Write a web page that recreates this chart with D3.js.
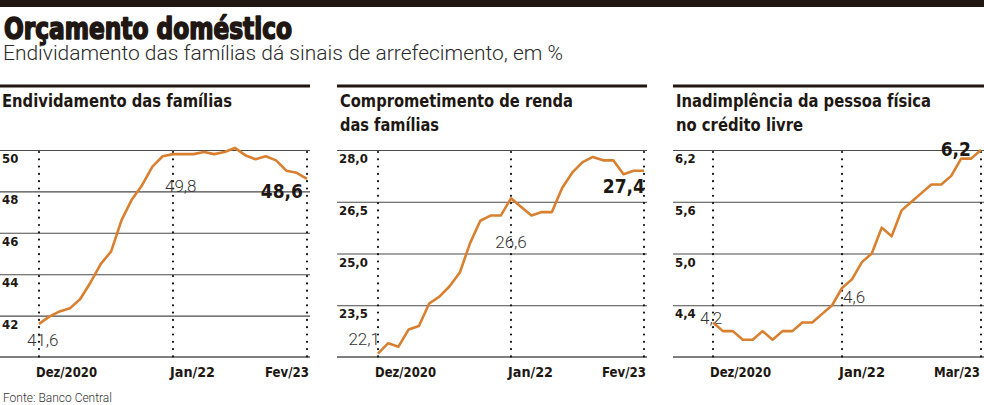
<!DOCTYPE html>
<html><head><meta charset="utf-8">
<script src="https://cdn.jsdelivr.net/npm/d3@7"></script>
<style>
html,body{margin:0;padding:0;background:#fff;}
svg{display:block;}
</style></head>
<body>
<svg id="chart" width="984" height="405"></svg>
<script>
// ---------- DATA ----------
const title = "Orçamento doméstico";
const subtitle = "Endividamento das famílias dá sinais de arrefecimento, em %";
const source = "Fonte: Banco Central";

// Panel 1: Endividamento das famílias (Dez/2020 .. Fev/23, monthly)
const endividamento = [41.6, 41.95, 42.2, 42.35, 42.8, 43.6, 44.5, 45.1, 46.6, 47.6, 48.3, 49.2, 49.7, 49.8, 49.8, 49.8, 49.9, 49.8, 49.9, 50.1, 49.75, 49.55, 49.7, 49.5, 49.0, 48.9, 48.6];
const endividamentoTicks = [42, 44, 46, 48, 50];
const endividamentoTickLabels = ["42", "44", "46", "48", "50"];

// Panel 2: Comprometimento de renda das famílias (Dez/2020 .. Fev/23)
const comprometimento = [22.1, 22.4, 22.3, 22.8, 22.9, 23.55, 23.75, 24.05, 24.45, 25.3, 25.95, 26.1, 26.1, 26.6, 26.35, 26.1, 26.2, 26.2, 26.9, 27.35, 27.65, 27.8, 27.7, 27.7, 27.3, 27.4, 27.4];
const comprometimentoTicks = [23.5, 25.0, 26.5, 28.0];
const comprometimentoTickLabels = ["23,5", "25,0", "26,5", "28,0"];

// Panel 3: Inadimplência da pessoa física no crédito livre (Dez/2020 .. Mar/23)
const inadimplencia = [4.2, 4.1, 4.1, 4.0, 4.0, 4.1, 4.0, 4.1, 4.1, 4.2, 4.2, 4.3, 4.4, 4.6, 4.7, 4.9, 5.0, 5.3, 5.2, 5.5, 5.6, 5.7, 5.8, 5.8, 5.9, 6.1, 6.1, 6.2];
const inadimplenciaTicks = [4.4, 5.0, 5.6, 6.2];
const inadimplenciaTickLabels = ["4,4", "5,0", "5,6", "6,2"];

const xLabels12 = ["Dez/2020", "Jan/22", "Fev/23"];
const xLabels3 = ["Dez/2020", "Jan/22", "Mar/23"];

// ---------- LAYOUT ----------
const ORANGE = "#d8802f";
const INK = "#201713";
const condBold = "'DejaVu Sans Condensed','DejaVu Sans',sans-serif";
const light = "Roboto,'Open Sans',sans-serif";

const svg = d3.select("#chart");

svg.append("rect").attr("x", 0).attr("y", 0).attr("width", 984).attr("height", 7).attr("fill", INK);
svg.append("text").text(title)
  .attr("x", 4).attr("y", 39)
  .attr("font-family", condBold).attr("font-weight", 700)
  .attr("font-size", 30).attr("fill", INK)
  .attr("stroke", INK).attr("stroke-width", 1.6).attr("stroke-linejoin", "round")
  .attr("textLength", 288).attr("lengthAdjust", "spacingAndGlyphs");
svg.append("text").text(subtitle)
  .attr("x", 3).attr("y", 60)
  .attr("font-family", light).attr("font-weight", 300)
  .attr("font-size", 19.5).attr("fill", "#2a2a2a")
  .attr("textLength", 560).attr("lengthAdjust", "spacingAndGlyphs");
svg.append("text").text(source)
  .attr("x", 3).attr("y", 402)
  .attr("font-family", light).attr("font-weight", 300)
  .attr("font-size", 13).attr("fill", "#333")
  .attr("textLength", 109).attr("lengthAdjust", "spacingAndGlyphs");

const panels = [
  {
    titleLines: ["Endividamento das famílias"], titleWidths: [230],
    left: 0, right: 310, x0: 39, x1: 307,
    data: endividamento, yDomain: [40, 50], ticks: endividamentoTicks, tickLabels: endividamentoTickLabels,
    xLabels: xLabels12, xIdx: [0, 13, 26], xLabelW: [61, 45, 44],
    labels: [
      {i: 0, text: "41,6", dx: -12, dy: 22, bold: false, anchor: "start"},
      {i: 13, text: "49,8", dx: -8, dy: 38, bold: false, anchor: "start", knock: true},
      {i: 26, text: "48,6", dx: -4, dy: 19, bold: true, anchor: "end", knock: true}
    ]
  },
  {
    titleLines: ["Comprometimento de renda", "das famílias"], titleWidths: [233, 99],
    left: 337, right: 647, x0: 378, x1: 644,
    data: comprometimento, yDomain: [22, 28], ticks: comprometimentoTicks, tickLabels: comprometimentoTickLabels,
    xLabels: xLabels12, xIdx: [0, 13, 26], xLabelW: [61, 45, 44],
    labels: [
      {i: 0, text: "22,1", dx: 2, dy: -9, bold: false, anchor: "end"},
      {i: 13, text: "26,6", dx: 0, dy: 50, bold: false, anchor: "middle"},
      {i: 26, text: "27,4", dx: 1, dy: 22, bold: true, anchor: "end"}
    ]
  },
  {
    titleLines: ["Inadimplência da pessoa física", "no crédito livre"], titleWidths: [255, 127],
    left: 673, right: 984, x0: 713, x1: 981,
    data: inadimplencia, yDomain: [3.8, 6.2], ticks: inadimplenciaTicks, tickLabels: inadimplenciaTickLabels,
    xLabels: xLabels3, xIdx: [0, 13, 27], xLabelW: [61, 46, 46],
    labels: [
      {i: 0, text: "4,2", dx: -13, dy: 1, bold: false, anchor: "start"},
      {i: 13, text: "4,6", dx: 1, dy: 15, bold: false, anchor: "start"},
      {i: 27, text: "6,2", dx: -10, dy: 6, bold: true, anchor: "end", knock: true}
    ]
  }
];

const TOP = 150, BOTTOM = 357;

panels.forEach(p => {
  const g = svg.append("g");
  const n = p.data.length;
  const x = d3.scaleLinear().domain([0, n - 1]).range([p.x0, p.x1]);
  const y = d3.scaleLinear().domain(p.yDomain).range([BOTTOM, TOP]);

  // header rule
  g.append("rect").attr("x", p.left).attr("y", 84.5).attr("width", p.right - p.left).attr("height", 3).attr("fill", INK);
  // title
  p.titleLines.forEach((t, k) => {
    g.append("text").text(t)
      .attr("x", p.left + (p.left === 0 ? 2 : 3)).attr("y", 107 + k * 24)
      .attr("font-family", condBold).attr("font-weight", 700)
      .attr("font-size", 17).attr("fill", INK)
      .attr("textLength", p.titleWidths[k]).attr("lengthAdjust", "spacingAndGlyphs");
  });

  // horizontal grid using a d3 axis
  const yAxis = d3.axisLeft(y).tickValues(p.ticks).tickSize(-(p.right - p.left)).tickFormat("");
  const ya = g.append("g").attr("transform", `translate(${p.left},0)`).call(yAxis);
  ya.select(".domain").remove();
  ya.selectAll(".tick line").attr("stroke", "#4a4a4a").attr("stroke-width", 1.1);
  // bottom baseline
  g.append("line").attr("x1", p.left).attr("x2", p.right)
    .attr("y1", y(p.yDomain[0])).attr("y2", y(p.yDomain[0]))
    .attr("stroke", "#555").attr("stroke-width", 1.6);

  // tick labels (below gridlines)
  p.ticks.forEach((t, k) => {
    g.append("text").text(p.tickLabels[k])
      .attr("x", p.left + 2).attr("y", y(t) + 13)
      .attr("font-family", condBold).attr("font-weight", 700)
      .attr("font-size", 13).attr("fill", INK);
  });

  // dotted verticals
  p.xIdx.forEach(i => {
    g.append("line").attr("x1", x(i)).attr("x2", x(i))
      .attr("y1", TOP + 2).attr("y2", BOTTOM)
      .attr("stroke", "#111").attr("stroke-width", 2.2)
      .attr("stroke-linecap", "round").attr("stroke-dasharray", "0,7.3");
  });

  // x labels
  p.xIdx.forEach((i, k) => {
    const last = k === p.xIdx.length - 1;
    g.append("text").text(p.xLabels[k])
      .attr("x", last ? Math.min(x(i) + 2, 980) : x(i) - 3).attr("y", 377)
      .attr("text-anchor", last ? "end" : "start")
      .attr("font-family", condBold).attr("font-weight", 700)
      .attr("font-size", 14.5).attr("fill", INK)
      .attr("textLength", p.xLabelW[k]).attr("lengthAdjust", "spacingAndGlyphs");
  });

  // value labels
  p.labels.forEach(l => {
    const tx = x(l.i) + l.dx, ty = y(p.data[l.i]) + l.dy;
    const t = g.append("text").text(l.text)
      .attr("x", tx).attr("y", ty).attr("text-anchor", l.anchor)
      .attr("font-family", l.bold ? condBold : light)
      .attr("font-weight", l.bold ? 700 : 300)
      .attr("font-size", l.bold ? 19 : 17)
      .attr("fill", l.bold ? INK : "#333");
    if (l.knock) {
      const bb = t.node().getBBox();
      g.insert("rect", "text")
        .attr("x", bb.x - 3).attr("y", bb.y + 2).attr("width", bb.width + 6).attr("height", bb.height - 4)
        .attr("fill", "#fff");
    }
  });

  // data line
  const line = d3.line().x((d, i) => x(i)).y(d => y(d));
  g.append("path").datum(p.data).attr("d", line)
    .attr("fill", "none").attr("stroke", ORANGE).attr("stroke-width", 2.6)
    .attr("stroke-linejoin", "round");
});
</script>
</body></html>
